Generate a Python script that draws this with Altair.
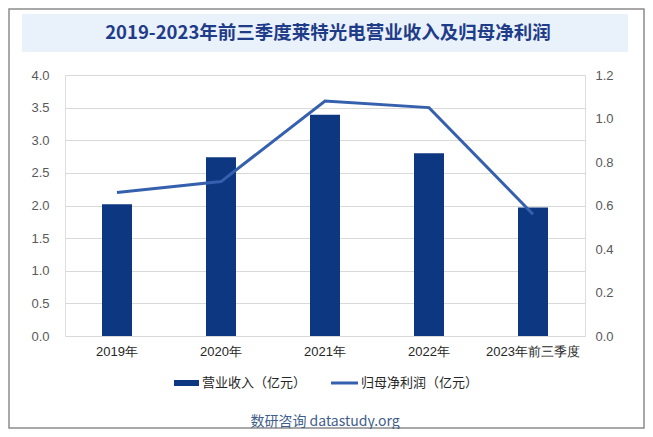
import altair as alt
import pandas as pd

years = ["2019年", "2020年", "2021年", "2022年", "2023年前三季度"]
revenue = [2.02, 2.74, 3.39, 2.80, 1.97]
profit = [0.66, 0.71, 1.08, 1.05, 0.56]
title_text = "2019-2023年前三季度莱特光电营业收入及归母净利润"
legend_labels = ["营业收入（亿元）", "归母净利润（亿元）"]
source_text = "数研咨询 datastudy.org"
left_ticks = [0, 0.5, 1.0, 1.5, 2.0, 2.5, 3.0, 3.5, 4.0]
right_ticks = [0, 0.2, 0.4, 0.6, 0.8, 1.0, 1.2]

BAR_COLOR = "#0E3782"
LINE_COLOR = "#3560AE"
W, H = 520, 261

df = pd.DataFrame({"year": years, "revenue": revenue, "profit": profit})

x_enc = alt.X(
    "year:N", sort=years, title=None,
    scale=alt.Scale(paddingInner=0, paddingOuter=0),
    axis=alt.Axis(labelAngle=0, ticks=False, domain=False, labelPadding=9,
                  labelFont="Liberation Sans", labelFontSize=13, labelColor="#262626"),
)

bars = alt.Chart(df).mark_bar(size=30, color=BAR_COLOR).encode(
    x=x_enc,
    y=alt.Y("revenue:Q", title=None,
            scale=alt.Scale(domain=[0, 4]),
            axis=alt.Axis(values=left_ticks, format=".1f", ticks=False, domain=False,
                          grid=True, gridColor="#D9D9D9", labelPadding=16,
                          labelFont="Liberation Sans", labelFontSize=13, labelColor="#595959")),
)

line = alt.Chart(df).mark_line(color=LINE_COLOR, strokeWidth=3).encode(
    x=alt.X("year:N", sort=years),
    y=alt.Y("profit:Q", title=None,
            scale=alt.Scale(domain=[0, 1.2]),
            axis=alt.Axis(orient="right", values=right_ticks, format=".1f", ticks=False,
                          domain=False, grid=False, labelPadding=10,
                          labelFont="Liberation Sans", labelFontSize=13, labelColor="#595959")),
)

one = pd.DataFrame({"t": [title_text]})
banner = alt.Chart(one).mark_rect(color="#E9F1FB").encode(
    x=alt.value(-43), x2=alt.value(563), y=alt.value(-61), y2=alt.value(-23)
)
title = alt.Chart(one).mark_text(
    font="Noto Sans CJK SC", fontSize=18.5, fontWeight="bold", color="#1F3C88",
    align="center", baseline="middle"
).encode(x=alt.value(263), y=alt.value(-42), text="t:N")

border = alt.Chart(one).mark_rect(fill=None, stroke="#8C8C8C", strokeWidth=1.5).encode(
    x=alt.value(-56), x2=alt.value(579), y=alt.value(-66), y2=alt.value(353)
)

leg_df = pd.DataFrame({"t": [legend_labels[0]]})
leg_df2 = pd.DataFrame({"t": [legend_labels[1]]})
leg_bar = alt.Chart(leg_df).mark_rect(color=BAR_COLOR).encode(
    x=alt.value(109), x2=alt.value(134), y=alt.value(305), y2=alt.value(311)
)
leg_text1 = alt.Chart(leg_df).mark_text(
    font="Noto Sans CJK SC", fontSize=13, color="#262626", align="left", baseline="middle"
).encode(x=alt.value(137), y=alt.value(308), text="t:N")
leg_line = alt.Chart(leg_df2).mark_rule(color=LINE_COLOR, strokeWidth=3).encode(
    x=alt.value(266), x2=alt.value(293), y=alt.value(308)
)
leg_text2 = alt.Chart(leg_df2).mark_text(
    font="Noto Sans CJK SC", fontSize=13, color="#262626", align="left", baseline="middle"
).encode(x=alt.value(296), y=alt.value(308), text="t:N")

src = alt.Chart(pd.DataFrame({"t": [source_text]})).mark_text(
    font="Noto Sans CJK SC", fontSize=14, color="#3F5E8C", align="center", baseline="middle"
).encode(x=alt.value(260), y=alt.value(347), text="t:N")

chart = alt.layer(
    banner, border, bars, line, title, leg_bar, leg_text1, leg_line, leg_text2, src
).resolve_scale(y="independent").properties(
    width=W, height=H,
    autosize=alt.AutoSizeParams(type="none"),
    padding={"left": 57, "top": 67, "right": 60, "bottom": 93},
).configure_view(stroke=None).configure(background="white")

chart.save("out.html", embed_options={"renderer": "svg", "actions": False})
